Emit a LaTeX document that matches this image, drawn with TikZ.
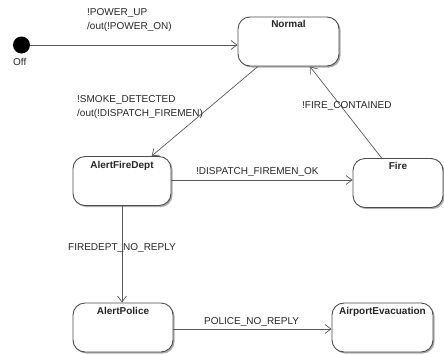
\documentclass[tikz,border=0pt]{standalone}
\usepackage{fontspec}
\setmainfont{Liberation Sans}
\usetikzlibrary{arrows.meta,shadows,calc}
\begin{document}
\begin{tikzpicture}[x=1pt,y=-1pt,
  every node/.style={font=\fontsize{10}{14}\selectfont, text=black!85},
  state/.style={draw=black!70, line width=0.9pt, fill=white, rounded corners=12pt,
    minimum width=#1, minimum height=49pt, inner sep=0pt,
    drop shadow={shadow xshift=1.6pt, shadow yshift=-1.6pt, fill=black!40, opacity=0.8}},
  statename/.style={anchor=north, inner sep=0pt, font=\fontsize{10}{12}\selectfont\bfseries},
  trans/.style={draw=black!65, line width=0.7pt, -{Straight Barb[length=6pt,width=9pt,line width=0.7pt]}},
  tlabel/.style={anchor=west, align=left, inner sep=0pt}
]
\useasboundingbox (0,0) rectangle (444,354);

% initial pseudo-state
\node[circle, fill=black, minimum size=17pt, inner sep=0pt] (off) at (21.5,45) {};
\node[anchor=west, inner sep=0pt] (offname) at (13,62) {Off};

% states
\node[state=101pt] (normal) at (288.5,41.5) {};
\node[statename] (normalname) at ($(normal.north)+(0,4)$) {Normal};

\node[state=98pt] (afd) at (122,181) {};
\node[statename] (afdname) at ($(afd.north)+(0,5)$) {AlertFireDept};

\node[state=90pt] (fire) at (398,183) {};
\node[statename] (firename) at ($(fire.north)+(0,4)$) {Fire};

\node[state=100pt] (police) at (123,327.5) {};
\node[statename] (policename) at ($(police.north)+(0,4)$) {AlertPolice};

\node[state=101pt] (evac) at (382.5,327.5) {};
\node[statename] (evacname) at ($(evac.north)+(0,4)$) {AirportEvacuation};

% transitions
\draw[trans] (off) -- (off -| normal.west);
\draw[trans] ($(normal.south west)!0.2!(normal.south east)$) -- ($(afd.north west)!0.8!(afd.north east)$);
\draw[trans] ($(fire.north west)!0.32!(fire.north east)$) -- ($(normal.south west)!0.71!(normal.south east)$);
\draw[trans] (afd.east |- 0,180) -- (fire.west |- 0,180);
\draw[trans] (afd.south) -- (afd.south |- police.north);
\draw[trans] (police.east |- 0,329) -- (evac.west |- 0,329);

% transition labels
\node[tlabel] (lpower) at (87,20) {!POWER\_UP\\/out(!POWER\_ON)};
\node[tlabel] (lsmoke) at (77,107) {!SMOKE\_DETECTED\\/out(!DISPATCH\_FIREMEN)};
\node[tlabel] (ldispatch) at (196,172) {!DISPATCH\_FIREMEN\_OK};
\node[tlabel] (lcontained) at (302,106) {!FIRE\_CONTAINED};
\node[tlabel] (lfiredept) at (68,248) {FIREDEPT\_NO\_REPLY};
\node[tlabel] (lpolice) at (204,322) {POLICE\_NO\_REPLY};
\end{tikzpicture}
\end{document}
